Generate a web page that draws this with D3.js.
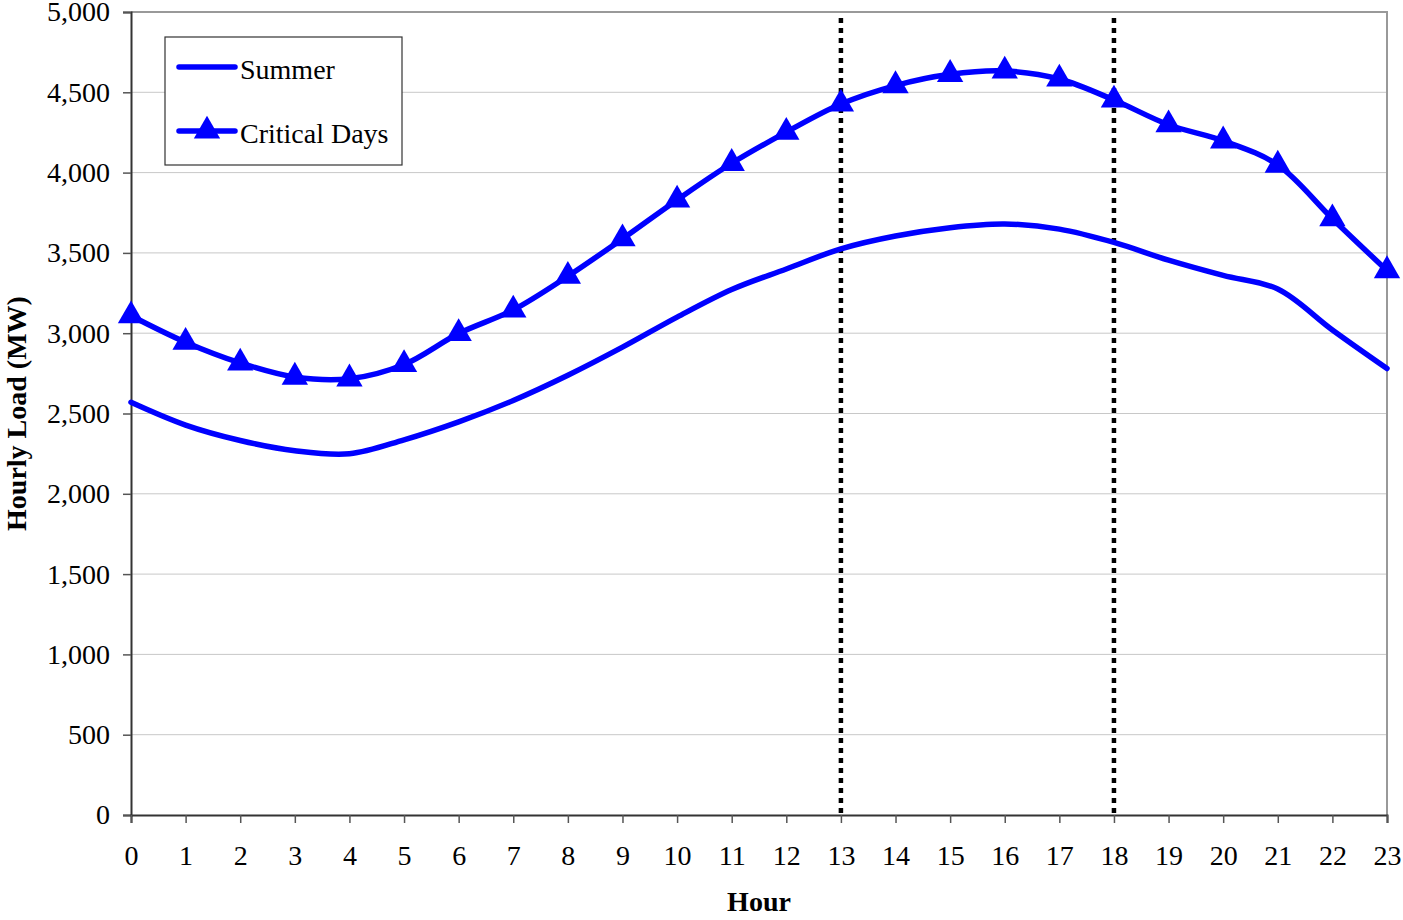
<!DOCTYPE html>
<meta charset="utf-8">
<script src="https://d3js.org/d3.v7.js"></script>
<style>
  body { margin: 0; background: #fff; }
  text { font-family: "Liberation Serif", "Times New Roman", serif; }
</style>
<div id="chart"></div>
<script>

// data
const hours = d3.range(0, 24);
const summer = [2570, 2428, 2332, 2268, 2249, 2336, 2448, 2581, 2738, 2913, 3100, 3272,
                3400, 3525, 3605, 3657, 3680, 3648, 3565, 3455, 3360, 3275, 3020, 2780];
const critical = [3109, 2944, 2815, 2727, 2716, 2805, 2998, 3145, 3355, 3588, 3830, 4058,
                  4252, 4427, 4542, 4612, 4633, 4583, 4452, 4298, 4198, 4047, 3713, 3390];
const yTicks = [0, 500, 1000, 1500, 2000, 2500, 3000, 3500, 4000, 4500, 5000];
const peakHours = [13, 18];
const seriesNames = ["Summer", "Critical Days"];

const W = 1403, H = 920;
const margin = {top: 12, right: 16, bottom: 105, left: 131};
const fs = "28px";

const svg = d3.select("#chart").append("svg")
  .attr("width", W).attr("height", H);

const x = d3.scaleLinear().domain([0, 23]).range([margin.left, W - margin.right]);
const y = d3.scaleLinear().domain([0, 5000]).range([H - margin.bottom, margin.top]);

// gridlines
svg.append("g")
  .selectAll("line")
  .data(yTicks.slice(1))
  .join("line")
    .attr("x1", x(0)).attr("x2", x(23))
    .attr("y1", d => y(d)).attr("y2", d => y(d))
    .attr("stroke", "#c8c8c8").attr("stroke-width", 1);

// frame top / right
svg.append("path")
  .attr("d", `M${x(0)},${y(5000)}H${x(23)}V${y(0)}`)
  .attr("fill", "none").attr("stroke", "#999").attr("stroke-width", 2);

// y axis
const yAxis = svg.append("g")
  .attr("transform", `translate(${x(0)},0)`)
  .call(d3.axisLeft(y).tickValues(yTicks).tickFormat(d3.format(",")).tickSize(8).tickPadding(13));
yAxis.select(".domain").attr("stroke", "#333").attr("stroke-width", 2);
yAxis.selectAll(".tick line").attr("stroke", "#555").attr("stroke-width", 1.5);
yAxis.selectAll("text")
  .style("font-family", "Liberation Serif, serif")
  .style("font-size", fs).attr("fill", "#000");

// x axis
const xAxis = svg.append("g")
  .attr("transform", `translate(0,${y(0)})`)
  .call(d3.axisBottom(x).tickValues(hours).tickFormat(d3.format("d")).tickSize(8).tickPadding(22));
xAxis.select(".domain").attr("stroke", "#333").attr("stroke-width", 2);
xAxis.selectAll(".tick line").attr("stroke", "#555").attr("stroke-width", 1.5);
xAxis.selectAll("text")
  .style("font-family", "Liberation Serif, serif")
  .style("font-size", fs).attr("fill", "#000");

// axis titles
svg.append("text")
  .attr("x", (x(0) + x(23)) / 2).attr("y", 911)
  .attr("text-anchor", "middle")
  .style("font-size", fs).style("font-weight", "bold")
  .text("Hour");

svg.append("text")
  .attr("transform", `translate(26,${(y(0) + y(5000)) / 2}) rotate(-90)`)
  .attr("text-anchor", "middle")
  .style("font-size", fs).style("font-weight", "bold")
  .text("Hourly Load (MW)");

// peak period markers
svg.append("g")
  .selectAll("line")
  .data(peakHours)
  .join("line")
    .attr("x1", d => x(d)).attr("x2", d => x(d))
    .attr("y1", y(5000) + 6).attr("y2", y(0))
    .attr("stroke", "#000").attr("stroke-width", 4.5)
    .attr("stroke-dasharray", "5,5");

// lines
const line = d3.line()
  .x((d, i) => x(hours[i]))
  .y(d => y(d))
  .curve(d3.curveCatmullRom.alpha(0.5));

svg.append("path")
  .attr("d", line(summer))
  .attr("fill", "none").attr("stroke", "#0000ff")
  .attr("stroke-width", 5.5).attr("stroke-linecap", "round");

svg.append("path")
  .attr("d", line(critical))
  .attr("fill", "none").attr("stroke", "#0000ff")
  .attr("stroke-width", 5.5).attr("stroke-linecap", "round");

const tri = d3.symbol().type(d3.symbolTriangle).size(300);

svg.append("g")
  .selectAll("path")
  .data(critical)
  .join("path")
    .attr("transform", (d, i) => `translate(${x(hours[i])},${y(d)})`)
    .attr("d", tri)
    .attr("fill", "#0000ff");

// legend
const lg = svg.append("g").attr("transform", "translate(165,37)");
lg.append("rect")
  .attr("width", 237).attr("height", 128)
  .attr("fill", "#fff").attr("stroke", "#333").attr("stroke-width", 1.2);

seriesNames.forEach((name, i) => {
  const ly = 30 + i * 64;
  lg.append("line")
    .attr("x1", 14).attr("x2", 70).attr("y1", ly).attr("y2", ly)
    .attr("stroke", "#0000ff").attr("stroke-width", 5.5).attr("stroke-linecap", "round");
  if (i === 1) {
    lg.append("path")
      .attr("transform", `translate(42,${ly})`)
      .attr("d", tri).attr("fill", "#0000ff");
  }
  lg.append("text")
    .attr("x", 75).attr("y", ly + 12)
    .style("font-size", fs)
    .text(name);
});

</script>
